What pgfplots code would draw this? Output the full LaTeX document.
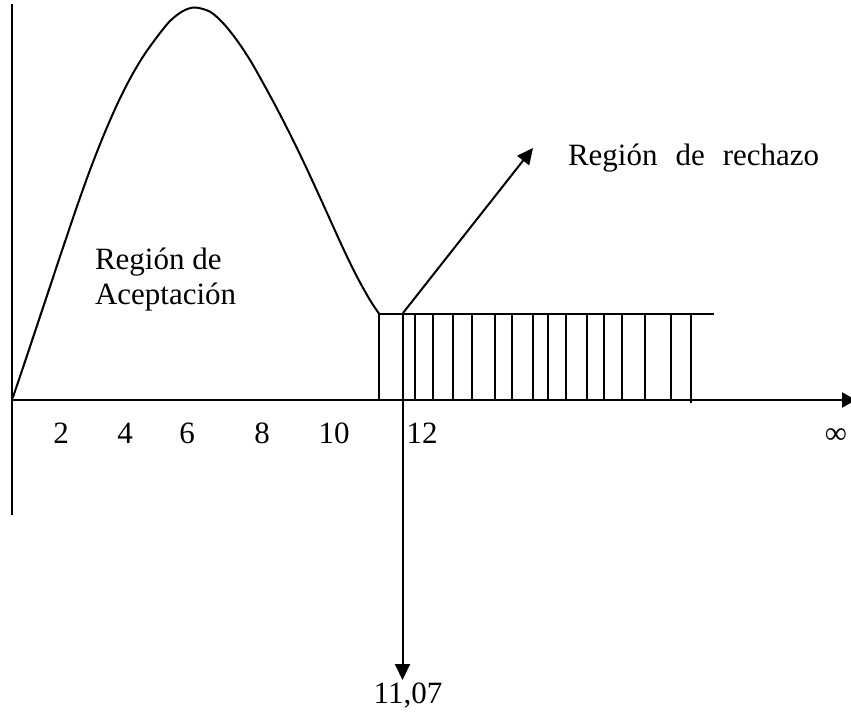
\documentclass[border=0pt]{standalone}
\usepackage{pgfplots}
\pgfplotsset{compat=1.18}
\usepackage{fontspec}
\setmainfont{Liberation Serif}
\usetikzlibrary{arrows.meta}
\tikzset{every node/.append style={inner sep=0pt, outer sep=0pt}}
\begin{document}
\fontsize{31}{37}\selectfont
\begin{tikzpicture}
\begin{axis}[
  scale only axis, width=851pt, height=712pt,
  xmin=0, xmax=851, ymin=0, ymax=712, y dir=reverse,
  hide axis, clip=true, unbounded coords=jump,
]
% vertical axis
\addplot[black, line width=2.2pt] coordinates {(12,4) (12,515)};
% horizontal axis
\addplot[black, line width=2.2pt, -{Triangle[width=15pt,length=14pt]}] coordinates {(12,400) (856,400)};
% density curve
\addplot[black, line width=2pt, smooth, tension=0.5] coordinates {
(12.7,398) (23.3,366.7) (36.7,326.5) (50,286.6) (63.3,246.7) (76.7,207.2) (90,170)
(103,136.8) (116.7,105.3) (130,78.7) (143,56.6) (156.7,37.4) (170,21) (183,11) (195,7.5)
(210,11.7) (223,23) (236.7,40) (250,60) (263,82.8) (276.7,108.1) (290,134)
(303,160.7) (316.7,190.2) (330,219.5) (343,248.1) (356.7,276.2) (370,300.1) (379,313.6)};
% top of rejection region
\addplot[black, line width=2pt] coordinates {(379,313.5) (714,313.5)};
% hatch lines
\addplot[black, line width=1.8pt] coordinates {
(379,313.5) (379,400) (nan,nan)
(415,313.5) (415,400) (nan,nan)
(432.7,313.5) (432.7,400) (nan,nan)
(453.3,313.5) (453.3,400) (nan,nan)
(471.7,313.5) (471.7,400) (nan,nan)
(495,313.5) (495,400) (nan,nan)
(512.3,313.5) (512.3,400) (nan,nan)
(532.7,313.5) (532.7,400) (nan,nan)
(547.7,313.5) (547.7,400) (nan,nan)
(565.7,313.5) (565.7,400) (nan,nan)
(586.7,313.5) (586.7,400) (nan,nan)
(604.3,313.5) (604.3,400) (nan,nan)
(622.3,313.5) (622.3,400) (nan,nan)
(645,313.5) (645,400) (nan,nan)
(670.7,313.5) (670.7,400) (nan,nan)
(690.7,313.5) (690.7,403)};
% critical value arrow
\addplot[black, line width=2pt, -{Triangle[width=15pt,length=16pt]}] coordinates {(402.5,313.5) (402.5,680)};
% rejection region arrow
\addplot[black, line width=2pt, -{Triangle[width=15pt,length=16pt]}] coordinates {(403,313) (533,148)};
% labels
\node[anchor=base] at (axis cs:61,443) {2};
\node[anchor=base] at (axis cs:125,443) {4};
\node[anchor=base] at (axis cs:187,443) {6};
\node[anchor=base] at (axis cs:262,443) {8};
\node[anchor=base] at (axis cs:334,443) {10};
\node[anchor=base] at (axis cs:422,443) {12};
\node[anchor=base] at (axis cs:836,443) {∞};
\node[anchor=base west] at (axis cs:95,269) {Región de};
\node[anchor=base west] at (axis cs:95,304) {Aceptación};
\node[anchor=base west] at (axis cs:568,165) {Región\hspace{18pt}de\hspace{18pt}rechazo};
\node[anchor=base] at (axis cs:408,703) {11,07};
\end{axis}
\pgfresetboundingbox
\useasboundingbox (current axis.south west) rectangle (current axis.north east);
\end{tikzpicture}
\end{document}
